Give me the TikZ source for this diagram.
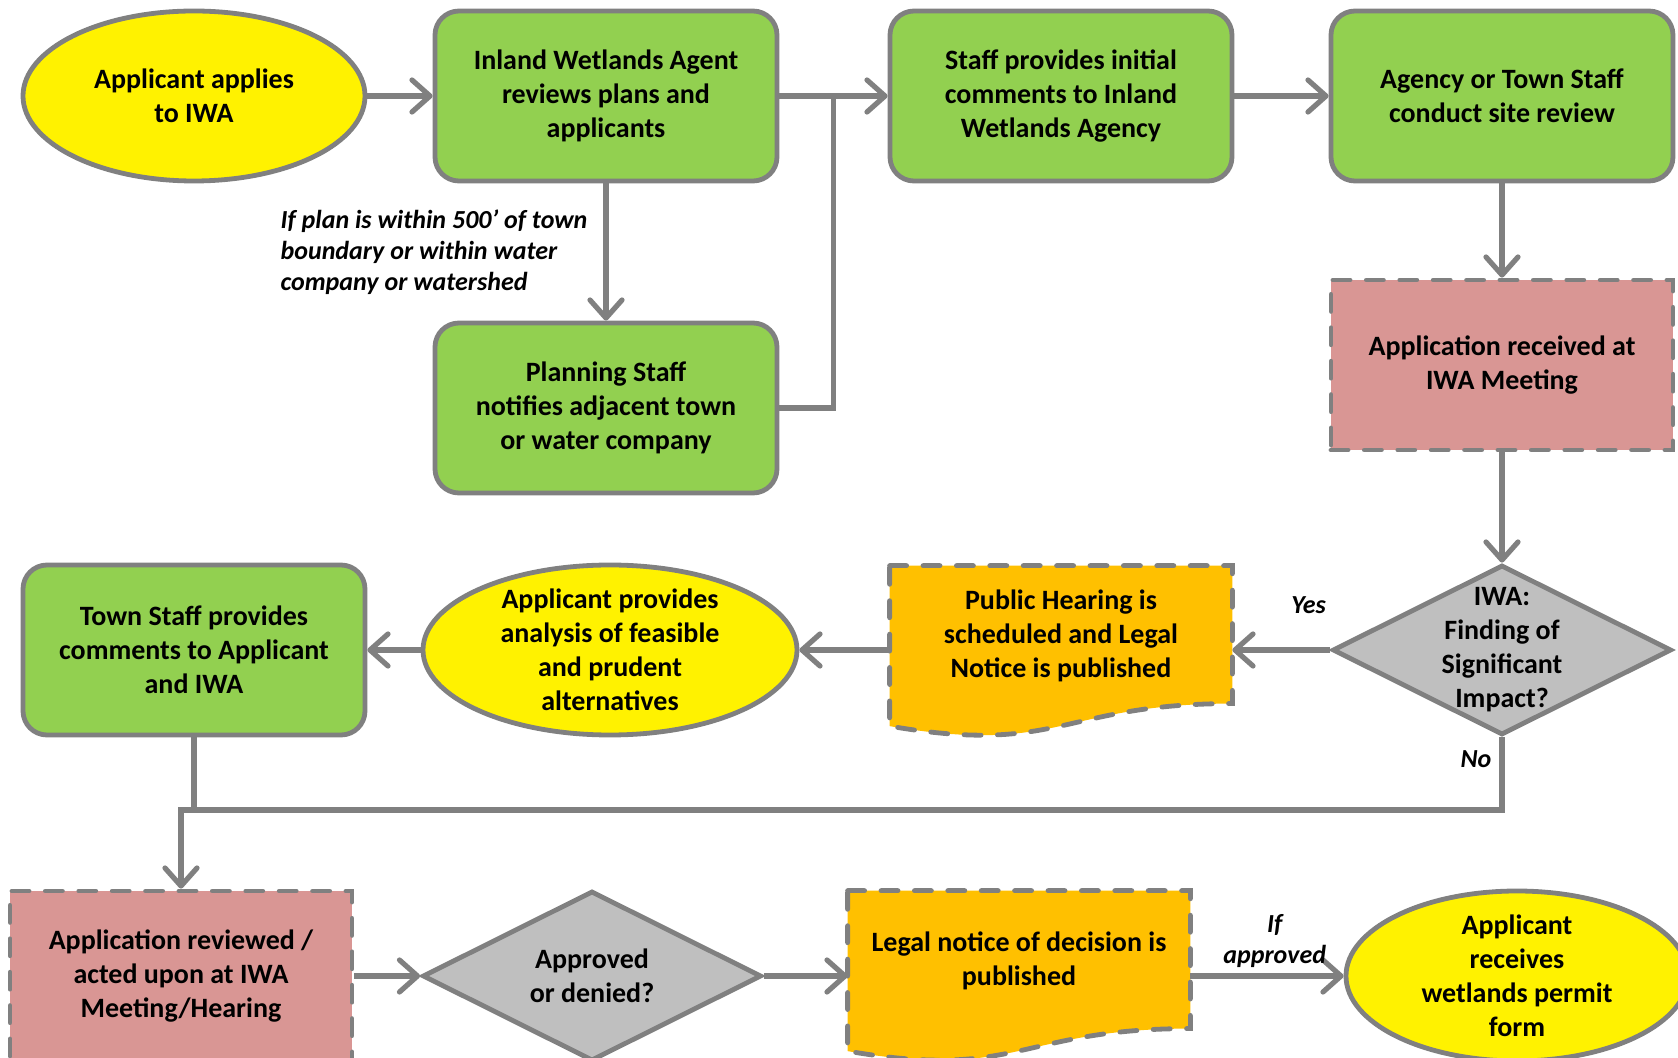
\documentclass[tikz,border=0pt]{standalone}
\usepackage{fontspec}
\setmainfont{Carlito}
\usepackage{tikz}
\usetikzlibrary{arrows.meta,positioning,shapes.geometric,calc,backgrounds}
\definecolor{linegray}{RGB}{128,128,128}
\definecolor{stepgreen}{RGB}{146,208,80}
\definecolor{meetpink}{RGB}{217,150,148}
\definecolor{noticeorange}{RGB}{255,192,0}
\definecolor{askgray}{RGB}{191,191,191}
\newcommand{\boxfont}{\fontsize{14}{17}\selectfont\bfseries}
\newcommand{\notefont}{\fontsize{13}{15.5}\selectfont\bfseries\itshape}
\tikzstyle{every node}=[font=\boxfont, align=center]
\tikzstyle{stepbox}=[rectangle, rounded corners=12pt, draw=linegray, line width=2.4pt, fill=stepgreen, minimum width=171pt, minimum height=85pt]
\tikzstyle{meeting}=[rectangle, draw=linegray, line width=2.4pt, line cap=round, dash pattern=on 8.5pt off 8.2pt, fill=meetpink, minimum width=171pt, minimum height=85pt]
\tikzstyle{applicant}=[ellipse, draw=linegray, line width=2.4pt, fill=yellow, minimum width=171pt, minimum height=85pt]
\tikzstyle{decision}=[diamond, draw=linegray, line width=2.4pt, fill=askgray, minimum width=169.5pt, minimum height=85pt]
\tikzstyle{notice}=[rectangle, minimum width=171pt, minimum height=70pt]
\tikzstyle{noticeshape}=[draw=linegray, line width=2.4pt, line cap=round, dash pattern=on 8.5pt off 8.2pt, fill=noticeorange]
\tikzstyle{flow}=[draw=linegray, line width=2.6pt, -{Straight Barb[length=9pt, width=16pt, line cap=round, line join=round]}]
\tikzstyle{link}=[draw=linegray, line width=2.6pt]
\tikzstyle{note}=[font=\notefont, inner sep=0pt]

\begin{document}
\begin{tikzpicture}[x=0.5pt, y=-0.5pt]
		
		\clip (0,0) rectangle (1678,1058);
		
		% top row
		\node[applicant] at (194, 96) (app) {Applicant applies\\to IWA};
		\node[stepbox] at (606, 96) (agent) {Inland Wetlands Agent\\reviews plans and\\applicants};
		\node[stepbox] at (1061, 96) (staff) {Staff provides initial\\comments to Inland\\Wetlands Agency};
		\node[stepbox] at (1502, 96) (site) {Agency or Town Staff\\conduct site review};
		
		\node[stepbox] at (606, 408) (plan) {Planning Staff\\notifies adjacent town\\or water company};
		\node[meeting] at (1502, 365) (recv) {Application received at\\IWA Meeting};
		
		% middle row
		\node[decision, label={center:{IWA:\\Finding of\\Significant\\Impact?}}] at (1502, 650) (iwa) {};
		\node[notice] at (1061, 636) (hear) {Public Hearing is\\scheduled and Legal\\Notice is published};
		\node[applicant, minimum width=187pt, label={center:{Applicant provides\\analysis of feasible\\and prudent\\alternatives}}] at (610, 650) (alt) {};
		\node[stepbox] at (194, 650) (town) {Town Staff provides\\comments to Applicant\\and IWA};
		
		% bottom row
		\node[meeting] at (181, 976) (act) {Application reviewed /\\acted upon at IWA\\Meeting/Hearing};
		\node[decision, label={center:{Approved\\or denied?}}] at (592, 976) (vote) {};
		\node[notice] at (1019, 961) (legal) {Legal notice of decision is\\published};
		\node[applicant, label={center:{Applicant\\receives\\wetlands permit\\form}}] at (1517, 976) (perm) {};
		
		\begin{scope}[on background layer]
		\fill[white] (0,0) rectangle (1678,1058);
		\foreach \doc in {hear, legal}
		\path[noticeshape] (\doc.north west) -- (\doc.north east)
		-- ($(\doc.north east)!0.98!(\doc.south east)$)
		.. controls ($(\doc.north)!0.98!(\doc.south)$) and ($(\doc.north)!1.35!(\doc.south)$)
		.. ($(\doc.north west)!1.14!(\doc.south west)$) -- cycle;
		\end{scope}
		
		\coordinate (merge) at (181, 810);
		
		\draw[flow] (app) -- (agent);
		\draw[flow] (agent) -- (staff);
		\draw[link] (plan.east) -| ($(agent.east)!0.5!(staff.west)$);
		\draw[flow] (staff) -- (site);
		\draw[flow] (agent) -- node[note, left=8pt, align=left]{If plan is within 500’ of town\\boundary or within water\\company or watershed} (plan);
		\draw[flow] (site) -- (recv);
		\draw[flow] (recv) -- (iwa);
		\draw[flow] (iwa) -- node[note, pos=0.22, above=17pt]{Yes} (iwa -| hear.east);
		\draw[flow] (hear.west |- alt) -- (alt);
		\draw[flow] (alt) -- (town);
		\draw[flow] (iwa) -- node[note, pos=0.3, left=4pt]{No} (iwa |- merge) -- (merge) -- (act);
		\draw[link] (town) -- (town |- merge);
		\draw[flow] (act) -- (vote);
		\draw[flow] (vote) -- (vote -| legal.west);
		\draw[flow] (legal.east |- perm) -- node[note, pos=0.55, above=3pt]{If\\approved} (perm);
		
		\end{tikzpicture}
\end{document}
